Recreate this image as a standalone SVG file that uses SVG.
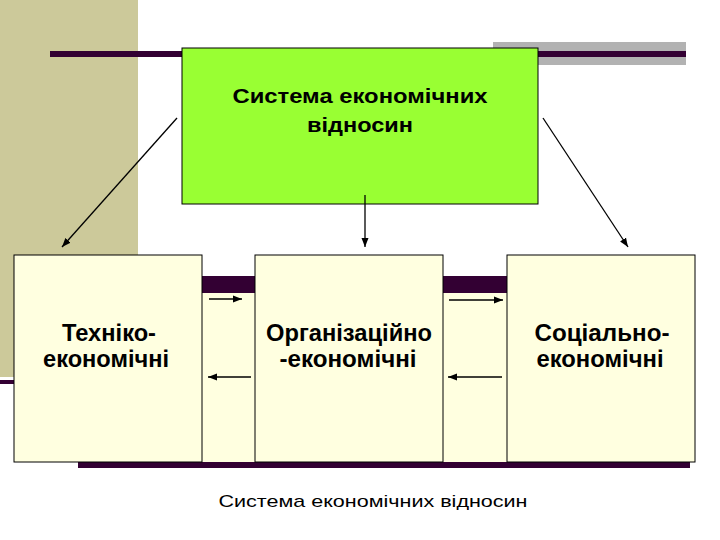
<svg xmlns="http://www.w3.org/2000/svg" width="720" height="540" viewBox="0 0 720 540">
<style>
.band{fill:#CCC99A}
.dark{fill:#330033}
.node{fill:#FFFFE0;stroke:#000;stroke-width:1}
.main{fill:#99FF33;stroke:#000;stroke-width:1}
.t{font-family:"Liberation Sans",Arial,sans-serif;font-weight:bold;fill:#000;text-anchor:middle}
.big{font-size:24px}
.mid{font-size:21px}
.cap{font-family:"Liberation Sans",Arial,sans-serif;font-size:17px;fill:#000;text-anchor:middle}
.c{stroke:#000;stroke-width:1.3;fill:none;marker-end:url(#ah)}
</style>
<defs>
<marker id="ah" markerUnits="userSpaceOnUse" markerWidth="10" markerHeight="8" refX="9" refY="4" orient="auto">
<path d="M0,0.5 L9,4 L0,7.5 z" fill="#000"/>
</marker>
</defs>
<rect width="720" height="540" fill="#fff"/>
<g id="background">
<rect class="band" x="0" y="0" width="138" height="377"/>
<rect class="dark" x="0" y="380" width="20" height="4"/>
<rect x="493" y="42" width="193" height="23" fill="#B2B2B2"/>
<rect class="dark" x="50" y="51" width="636" height="6"/>
<rect x="78" y="276" width="612" height="192" fill="#FFFFE0"/>
<rect class="dark" x="78" y="276" width="612" height="17"/>
<rect class="dark" x="78" y="462" width="612" height="6"/>
</g>
<g id="node-main">
<rect class="main" x="182" y="48" width="356" height="156"/>
<text class="t mid" x="360" y="103" textLength="255" lengthAdjust="spacingAndGlyphs">Система економічних</text>
<text class="t mid" x="360" y="132" textLength="106" lengthAdjust="spacingAndGlyphs">відносин</text>
</g>
<g id="node-tech">
<rect class="node" x="14" y="255" width="188" height="207"/>
<text class="t big" x="109" y="341" textLength="94" lengthAdjust="spacingAndGlyphs">Техніко-</text>
<text class="t big" x="106" y="367" textLength="126" lengthAdjust="spacingAndGlyphs">економічні</text>
</g>
<g id="node-org">
<rect class="node" x="255" y="255" width="188" height="207"/>
<text class="t big" x="349" y="341" textLength="166" lengthAdjust="spacingAndGlyphs">Організаційно</text>
<text class="t big" x="348" y="367" textLength="137" lengthAdjust="spacingAndGlyphs">-економічні</text>
</g>
<g id="node-soc">
<rect class="node" x="507" y="255" width="188" height="207"/>
<text class="t big" x="602" y="341" textLength="135" lengthAdjust="spacingAndGlyphs">Соціально-</text>
<text class="t big" x="600" y="367" textLength="127" lengthAdjust="spacingAndGlyphs">економічні</text>
</g>
<g id="connectors">
<line class="c" x1="177" y1="118" x2="62" y2="247"/>
<line class="c" x1="365" y1="195" x2="365" y2="247"/>
<line class="c" x1="543" y1="118" x2="628" y2="247"/>
<line class="c" x1="209" y1="299" x2="242" y2="299"/>
<line class="c" x1="251" y1="377" x2="208" y2="377"/>
<line class="c" x1="449" y1="300" x2="503" y2="300"/>
<line class="c" x1="502" y1="377" x2="448" y2="377"/>
</g>
<text class="cap" x="373" y="507" textLength="309" lengthAdjust="spacingAndGlyphs">Система економічних відносин</text>
</svg>
